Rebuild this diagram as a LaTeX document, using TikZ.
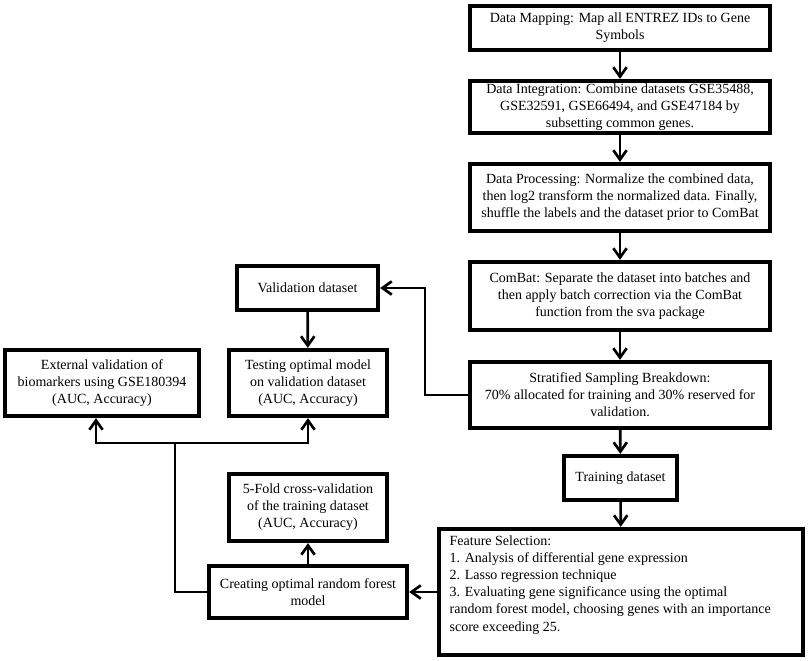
\documentclass[tikz,border=0pt]{standalone}
\usepackage{fontspec}
\setmainfont{Liberation Serif}
\usetikzlibrary{arrows.meta}
\begin{document}
\begin{tikzpicture}[x=0.75pt,y=-0.75pt,
  box/.style={draw=black, line width=3.2pt, align=center, inner sep=0pt,
    font=\fontsize{10.5}{12.8}\selectfont},
  conn/.style={draw=black, line width=2pt, -{Straight Barb[length=7pt,width=10pt,line width=2pt]}},
  line/.style={draw=black, line width=2pt}]
\useasboundingbox[fill=white] (0,0) rectangle (809,660);
\node[box, minimum width=225pt, minimum height=33pt] (b1) at (620,28)
  {Data Mapping: Map all ENTREZ IDs to Gene\\Symbols};
\node[box, minimum width=225pt, minimum height=39pt] (b2) at (620,107)
  {Data Integration: Combine datasets GSE35488,\\GSE32591, GSE66494, and GSE47184 by\\subsetting common genes.};
\node[box, minimum width=225pt, minimum height=50.25pt] (b3) at (620,197.5)
  {Data Processing: Normalize the combined data,\\then log2 transform the normalized data. Finally,\\shuffle the labels and the dataset prior to ComBat};
\node[box, minimum width=225pt, minimum height=51pt] (b4) at (620,296)
  {ComBat: Separate the dataset into batches and\\then apply batch correction via the ComBat\\function from the sva package};
\node[box, minimum width=225pt, minimum height=49.5pt] (b5) at (620,395)
  {Stratified Sampling Breakdown:\\70\% allocated for training and 30\% reserved for\\validation.};
\node[box, minimum width=84.75pt, minimum height=33pt] (train) at (620.5,478)
  {Training dataset};
\node[box, minimum width=273pt, minimum height=94.5pt, inner xsep=8pt, inner ysep=5pt] (feat) at (621,592)
  {\parbox[c][84pt][t]{257pt}{\raggedright Feature Selection:\\1. Analysis of differential gene expression\\2. Lasso regression technique\\3. Evaluating gene significance using the optimal\\random forest model, choosing genes with an importance\\score exceeding 25.}};
\node[box, minimum width=105.75pt, minimum height=33pt] (valid) at (307.5,288)
  {Validation dataset};
\node[box, minimum width=118.5pt, minimum height=49.5pt] (test) at (308,383)
  {Testing optimal model\\on validation dataset\\(AUC, Accuracy)};
\node[box, minimum width=145.5pt, minimum height=49.5pt] (ext) at (102,383)
  {External validation of\\biomarkers using GSE180394\\(AUC, Accuracy)};
\node[box, minimum width=118.5pt, minimum height=50.25pt] (cv) at (308,507.5)
  {5-Fold cross-validation\\of the training dataset\\(AUC, Accuracy)};
\node[box, minimum width=148.5pt, minimum height=39pt] (rf) at (308,592)
  {Creating optimal random forest\\model};
\coordinate (c1) at (425,395);
\coordinate (c2) at (425,288);
\coordinate (c3) at (175,592);
\coordinate (c4) at (175,443);
\coordinate (c5) at (96,443);
\coordinate (c6) at (308,443);
\draw[conn] (b1) -- (b2);
\draw[conn] (b2) -- (b3);
\draw[conn] (b3) -- (b4);
\draw[conn] (b4) -- (b5);
\draw[conn] (b5) -- (train);
\draw[conn] (train) -- (feat);
\draw[conn] (b5.west) -- (c1) -- (c2) -- (valid.east);
\draw[conn] (valid) -- (test);
\draw[conn] (feat.west) -- (rf.east);
\draw[conn] (rf) -- (cv);
\draw[line] (rf.west) -- (c3) -- (c4);
\draw[conn] (c4) -- (c5) -- (ext.south -| c5);
\draw[conn] (c4) -- (c6) -- (test.south);
\end{tikzpicture}
\end{document}
